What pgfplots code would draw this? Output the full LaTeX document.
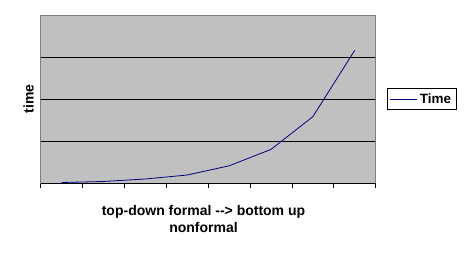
\documentclass[border=0pt]{standalone}
\usepackage{fontspec}
\setmainfont{Liberation Sans}
\usepackage{pgfplots}
\pgfplotsset{compat=1.18}
\definecolor{plotgray}{RGB}{192,192,192}
\definecolor{bordergray}{RGB}{128,128,128}
\definecolor{navyline}{RGB}{0,0,128}
\begin{document}
\begin{tikzpicture}
\begin{axis}[
  at={(0,0)}, anchor=south west,
  scale only axis, width=335pt, height=168pt,
  xmin=0, xmax=8, ymin=0, ymax=200,
  axis background/.style={fill=plotgray},
  axis line style={bordergray, line width=0.8pt},
  xtick={0,1,2,3,4,5,6,7,8}, xticklabels={},
  xtick pos=bottom, tick align=outside,
  major tick length=4.5pt,
  xtick style={black, line width=0.8pt},
  ytick={50,100,150}, yticklabels={},
  ytick style={draw=none},
  ymajorgrids, grid style={black, line width=0.9pt},
  xlabel={top-down formal -{}-> bottom up\\nonformal},
  xlabel style={at={(axis description cs:0.486,-0.131)}, anchor=north, inner sep=0pt,
    align=center, font=\fontsize{14}{17.5}\selectfont\bfseries},
  ylabel={time},
  ylabel style={at={(axis description cs:-0.02,0.5)}, anchor=south, inner sep=0pt,
    font=\fontsize{14}{16}\selectfont\bfseries},
  legend style={at={(1.0328,0.5)}, anchor=west, draw=black, line width=0.8pt, fill=white,
    font=\fontsize{13.5}{16}\selectfont\bfseries, inner xsep=3pt, inner ysep=2.5pt},
  legend image code/.code={\draw[#1, line width=0.8pt] (0pt,0pt) -- (27pt,0pt);},
]
\addplot[navyline, line width=0.8pt] coordinates {
 (0.5,0.6) (1.5,1.8) (2.5,4.8) (3.5,9.5) (4.5,20.5) (5.5,40) (6.5,79) (7.5,158)
};
\addlegendentry{Time}
\draw[black, line width=0.8pt] (rel axis cs:0,0) -- (rel axis cs:1,0);
\end{axis}
\path[use as bounding box] (-40.7pt,-72pt) rectangle (426.3pt,183pt);
\end{tikzpicture}
\end{document}
